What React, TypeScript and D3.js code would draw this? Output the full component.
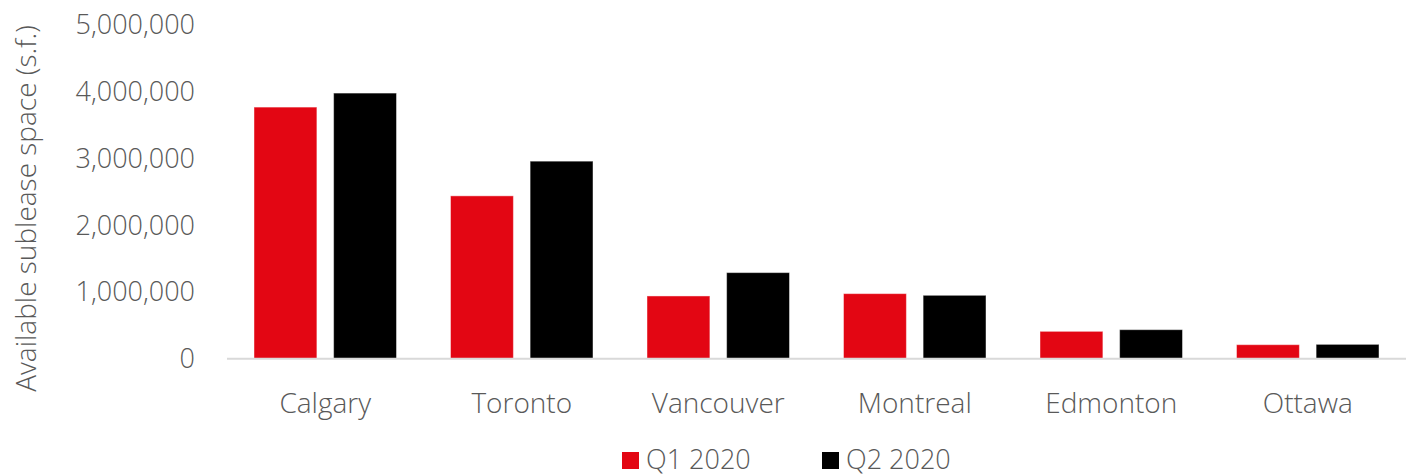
import React from "react";
import * as d3 from "d3";

const categories = ["Calgary", "Toronto", "Vancouver", "Montreal", "Edmonton", "Ottawa"];
const seriesNames = ["Q1 2020", "Q2 2020"];
const q1Values = [3770000, 2440000, 940000, 975000, 410000, 210000];
const q2Values = [3980000, 2960000, 1290000, 950000, 435000, 215000];
const yTicks = [0, 1000000, 2000000, 3000000, 4000000, 5000000];
const colors = ["#E30613", "#000000"];

const W = 1408;
const H = 474;
const FONT = "'Source Sans Pro', 'Open Sans', Lato, sans-serif";

export default function App() {
  const x0 = d3.scaleBand<string>().domain(categories).range([227, 1406]).paddingInner(0).paddingOuter(0);
  const x1 = d3.scaleBand<string>().domain(seriesNames).range([27, x0.bandwidth() - 27]).paddingInner(0.21).paddingOuter(0);
  const y = d3.scaleLinear().domain([0, 5000000]).range([358.7, 25]);
  const fmt = d3.format(",");
  const series = [q1Values, q2Values];

  return (
    <svg width={W} height={H} style={{ position: "absolute", left: 0, top: 0, background: "#fff" }} fontFamily={FONT}>
      <text
        transform={`translate(36,${(20 + 397) / 2}) rotate(-90)`}
        textAnchor="middle"
        fontSize={28}
        fontWeight={300}
        fill="#595959"
      >
        Available sublease space (s.f.)
      </text>
      {yTicks.map((t) => (
        <text key={t} x={195} y={y(t)} dy="0.35em" textAnchor="end" fontSize={27} fontWeight={300} fill="#595959">
          {fmt(t)}
        </text>
      ))}
      {categories.map((c, i) => (
        <g key={c} transform={`translate(${x0(c)},0)`}>
          {seriesNames.map((s, j) => (
            <rect
              key={s}
              x={x1(s)}
              y={y(series[j][i])}
              width={x1.bandwidth()}
              height={y(0) - y(series[j][i])}
              fill={colors[j]}
              stroke="rgba(255,255,255,0.45)"
              strokeWidth={1}
            />
          ))}
          <text x={x0.bandwidth() / 2} y={403} dy="0.35em" textAnchor="middle" fontSize={28} fontWeight={300} fill="#595959">
            {c}
          </text>
        </g>
      ))}
      <line x1={227} x2={1406} y1={y(0)} y2={y(0)} stroke="#D9D9D9" strokeWidth={2} />
      {seriesNames.map((s, j) => (
        <g key={s} transform={`translate(${622 + j * 200},0)`}>
          <rect x={0} y={452} width={17} height={17} fill={colors[j]} />
          <text x={24} y={460} dy="0.35em" fontSize={27} fontWeight={300} fill="#595959">
            {s}
          </text>
        </g>
      ))}
    </svg>
  );
}
